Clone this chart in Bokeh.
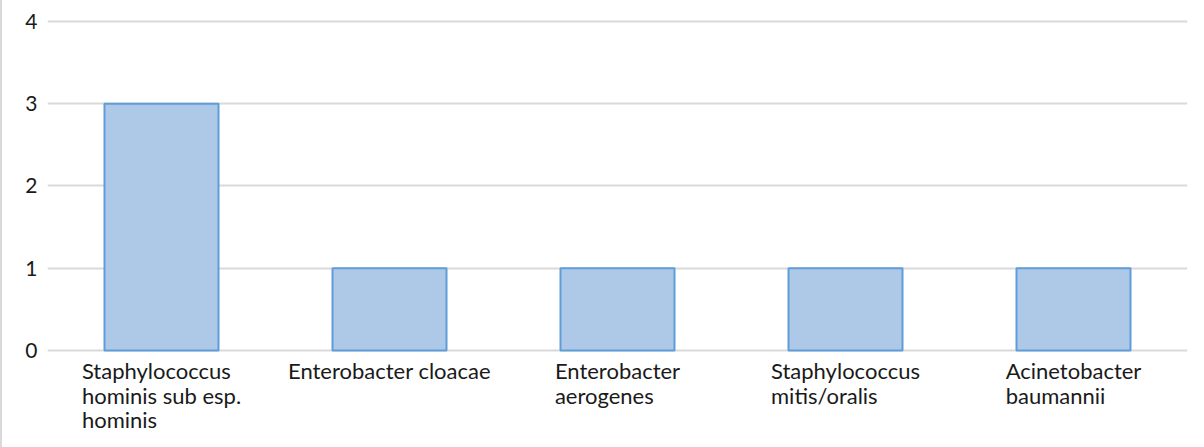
from bokeh.plotting import figure
from bokeh.models import ColumnDataSource, FixedTicker
from bokeh.core.properties import value
from bokeh.embed import file_html
from bokeh.resources import INLINE

# Organisms isolated and how many times each was found
organisms = [
    "Staphylococcus\nhominis sub esp.\nhominis",
    "Enterobacter cloacae",
    "Enterobacter\naerogenes",
    "Staphylococcus\nmitis/oralis",
    "Acinetobacter\nbaumannii",
]
counts = [3, 1, 1, 1, 1]
y_ticks = [0, 1, 2, 3, 4]

FONT = "Lato"
TEXT_COLOR = "#1a1a1a"
GRID_COLOR = "#d9d9d9"

src = ColumnDataSource(dict(org=organisms, n=counts, base=[0] * len(counts)))

# The frame runs down to the bottom edge so the category labels under the
# zero line are drawn inside it; the value axis still spans 0..4.
p = figure(
    x_range=organisms,
    y_range=(-1.12, 4.025),
    width=1202,
    height=447,
    output_backend="svg",
    toolbar_location=None,
    min_border_left=45,
    min_border_right=17,
    min_border_top=19,
    min_border_bottom=5,
    outline_line_color=None,
    background_fill_color="white",
    border_fill_color="white",
)
p.styles = {"border-left": "2px solid #d9d9d9"}

p.ygrid.ticker = FixedTicker(ticks=y_ticks)
p.ygrid.grid_line_color = GRID_COLOR
p.ygrid.grid_line_width = 2
p.xgrid.grid_line_color = None

p.vbar(x="org", top="n", width=0.5, source=src,
       fill_color="#aec8e8", line_color="#5f9dd8", line_width=2)

# Category labels: left-aligned lines, block centred under each bar
p.text(x="org", y="base", text="org", source=src,
       anchor="top_center", text_align="left",
       y_offset=7, text_font=value(FONT), text_font_size="22px",
       text_line_height=0.9, text_color=TEXT_COLOR)

p.xaxis.visible = False

p.yaxis.ticker = FixedTicker(ticks=y_ticks)
p.yaxis.axis_line_color = None
p.yaxis.major_tick_line_color = None
p.yaxis.minor_tick_line_color = None
p.yaxis.major_label_standoff = 4
p.yaxis.major_label_text_font = FONT
p.yaxis.major_label_text_font_size = "21px"
p.yaxis.major_label_text_color = TEXT_COLOR

open("out.html", "w").write(file_html(p, INLINE))
